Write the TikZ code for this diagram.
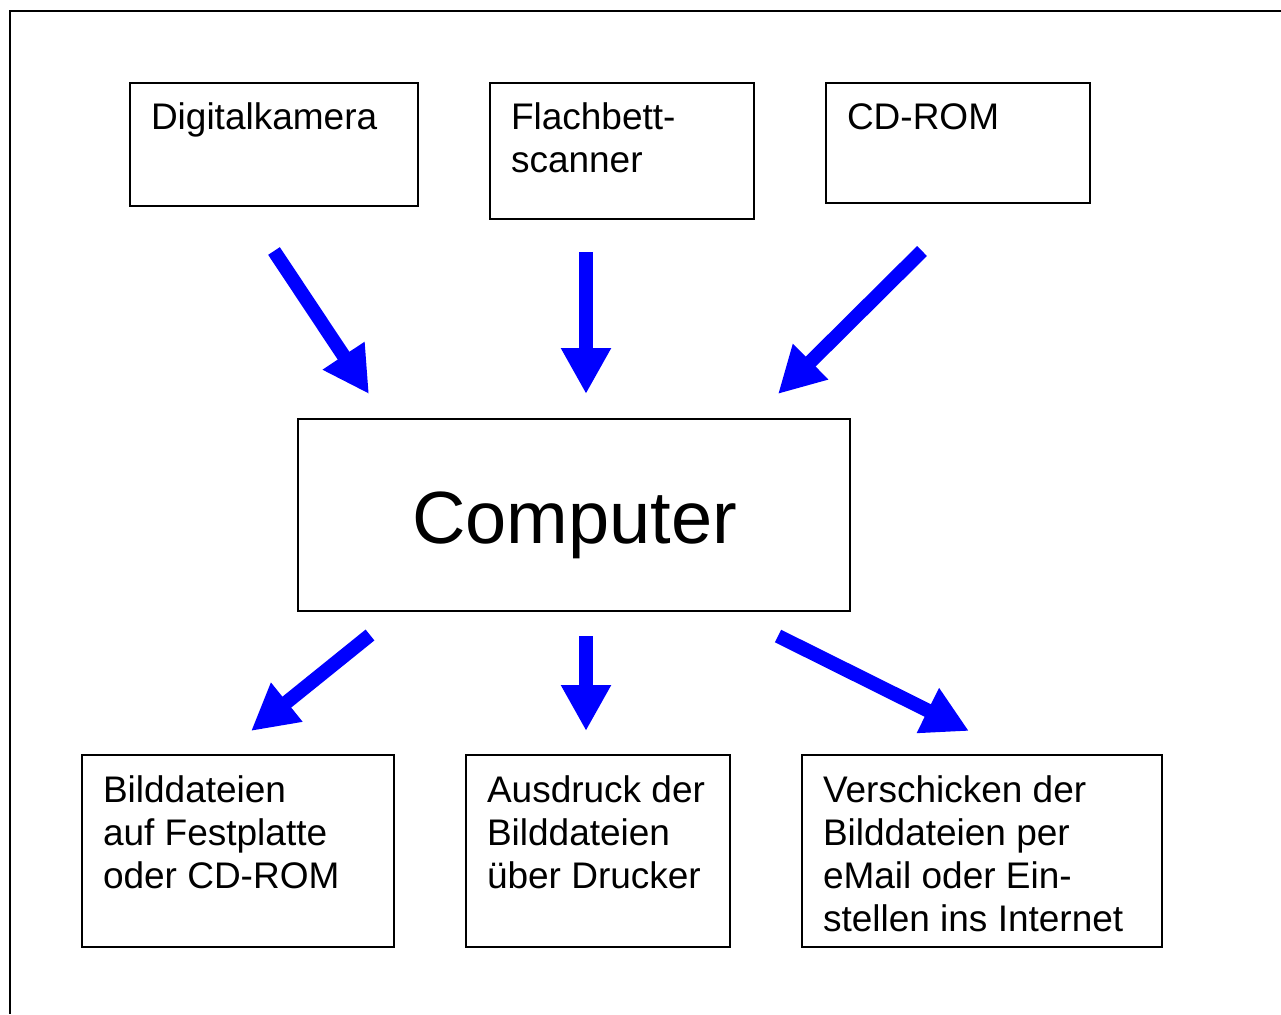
\documentclass[tikz,border=0pt]{standalone}
\usepackage{fontspec}
\setmainfont{Liberation Sans}
\usetikzlibrary{arrows.meta}
\definecolor{arrblue}{RGB}{0,0,255}
\tikzset{
  box/.style={draw=black, line width=1.5pt, anchor=north west, inner sep=0pt, outer sep=0pt},
  txt/.style={anchor=north west, inner sep=0pt, outer sep=0pt, align=left,
    font=\fontsize{37}{43}\selectfont},
  bigarrow/.style={draw=arrblue, line width=14pt,
    -{Triangle[length=46pt, width=47pt, fill=arrblue]}},
  frame/.style={draw=black, line width=2pt}
}
\newcommand{\topstrut}{\rule{0pt}{30pt}}
\begin{document}
\begin{tikzpicture}[x=1pt, y=-1pt]
\useasboundingbox (0,0) rectangle (1281,1014);
% frame (top and left edges only)
\coordinate (fTR) at (1281,11.5);
\coordinate (fTL) at (10,11.5);
\coordinate (fBL) at (10,1014);
\draw[frame] (fTR) -- (fTL) -- (fBL);

% top boxes
\node[box, minimum width=288pt, minimum height=123pt] (dk) at (130,83) {};
\node[box, minimum width=264pt, minimum height=136pt] (fs) at (490,83) {};
\node[box, minimum width=264pt, minimum height=120pt] (cd) at (826,83) {};
\node[txt] (dkt) at (151,99) {\topstrut Digitalkamera};
\node[txt] (fst) at (511,99) {\topstrut Flachbett-\\scanner};
\node[txt] (cdt) at (847,99) {\topstrut CD-ROM};

% computer
\node[box, minimum width=552pt, minimum height=192pt] (pc) at (298,419) {};
\node[anchor=base, inner sep=0pt, font=\fontsize{74}{80}\selectfont] (pct) at (574.5,543) {Computer};

% bottom boxes
\node[box, minimum width=312pt, minimum height=192pt] (hd) at (82,755) {};
\node[box, minimum width=264pt, minimum height=192pt] (pr) at (466,755) {};
\node[box, minimum width=360pt, minimum height=192pt] (nt) at (802,755) {};
\node[txt] (hdt) at (103,772) {\topstrut Bilddateien\\auf Festplatte\\oder CD-ROM};
\node[txt] (prt) at (487,772) {\topstrut Ausdruck der\\Bilddateien\\über Drucker};
\node[txt] (ntt) at (823,772) {\topstrut Verschicken der\\Bilddateien per\\eMail oder Ein-\\stellen ins Internet};

% arrow end points
\coordinate (a1s) at (274,251);  \coordinate (a1e) at (369,394);
\coordinate (a2s) at (586,252);  \coordinate (a2e) at (586,394);
\coordinate (a3s) at (922,251);  \coordinate (a3e) at (778,394);
\coordinate (a4s) at (370,635);  \coordinate (a4e) at (251,731);
\coordinate (a5s) at (586,636);  \coordinate (a5e) at (586,731);
\coordinate (a6s) at (778,636);  \coordinate (a6e) at (969,731);

\draw[bigarrow] (a1s) -- (a1e);
\draw[bigarrow] (a2s) -- (a2e);
\draw[bigarrow] (a3s) -- (a3e);
\draw[bigarrow] (a4s) -- (a4e);
\draw[bigarrow] (a5s) -- (a5e);
\draw[bigarrow] (a6s) -- (a6e);
\end{tikzpicture}
\end{document}
